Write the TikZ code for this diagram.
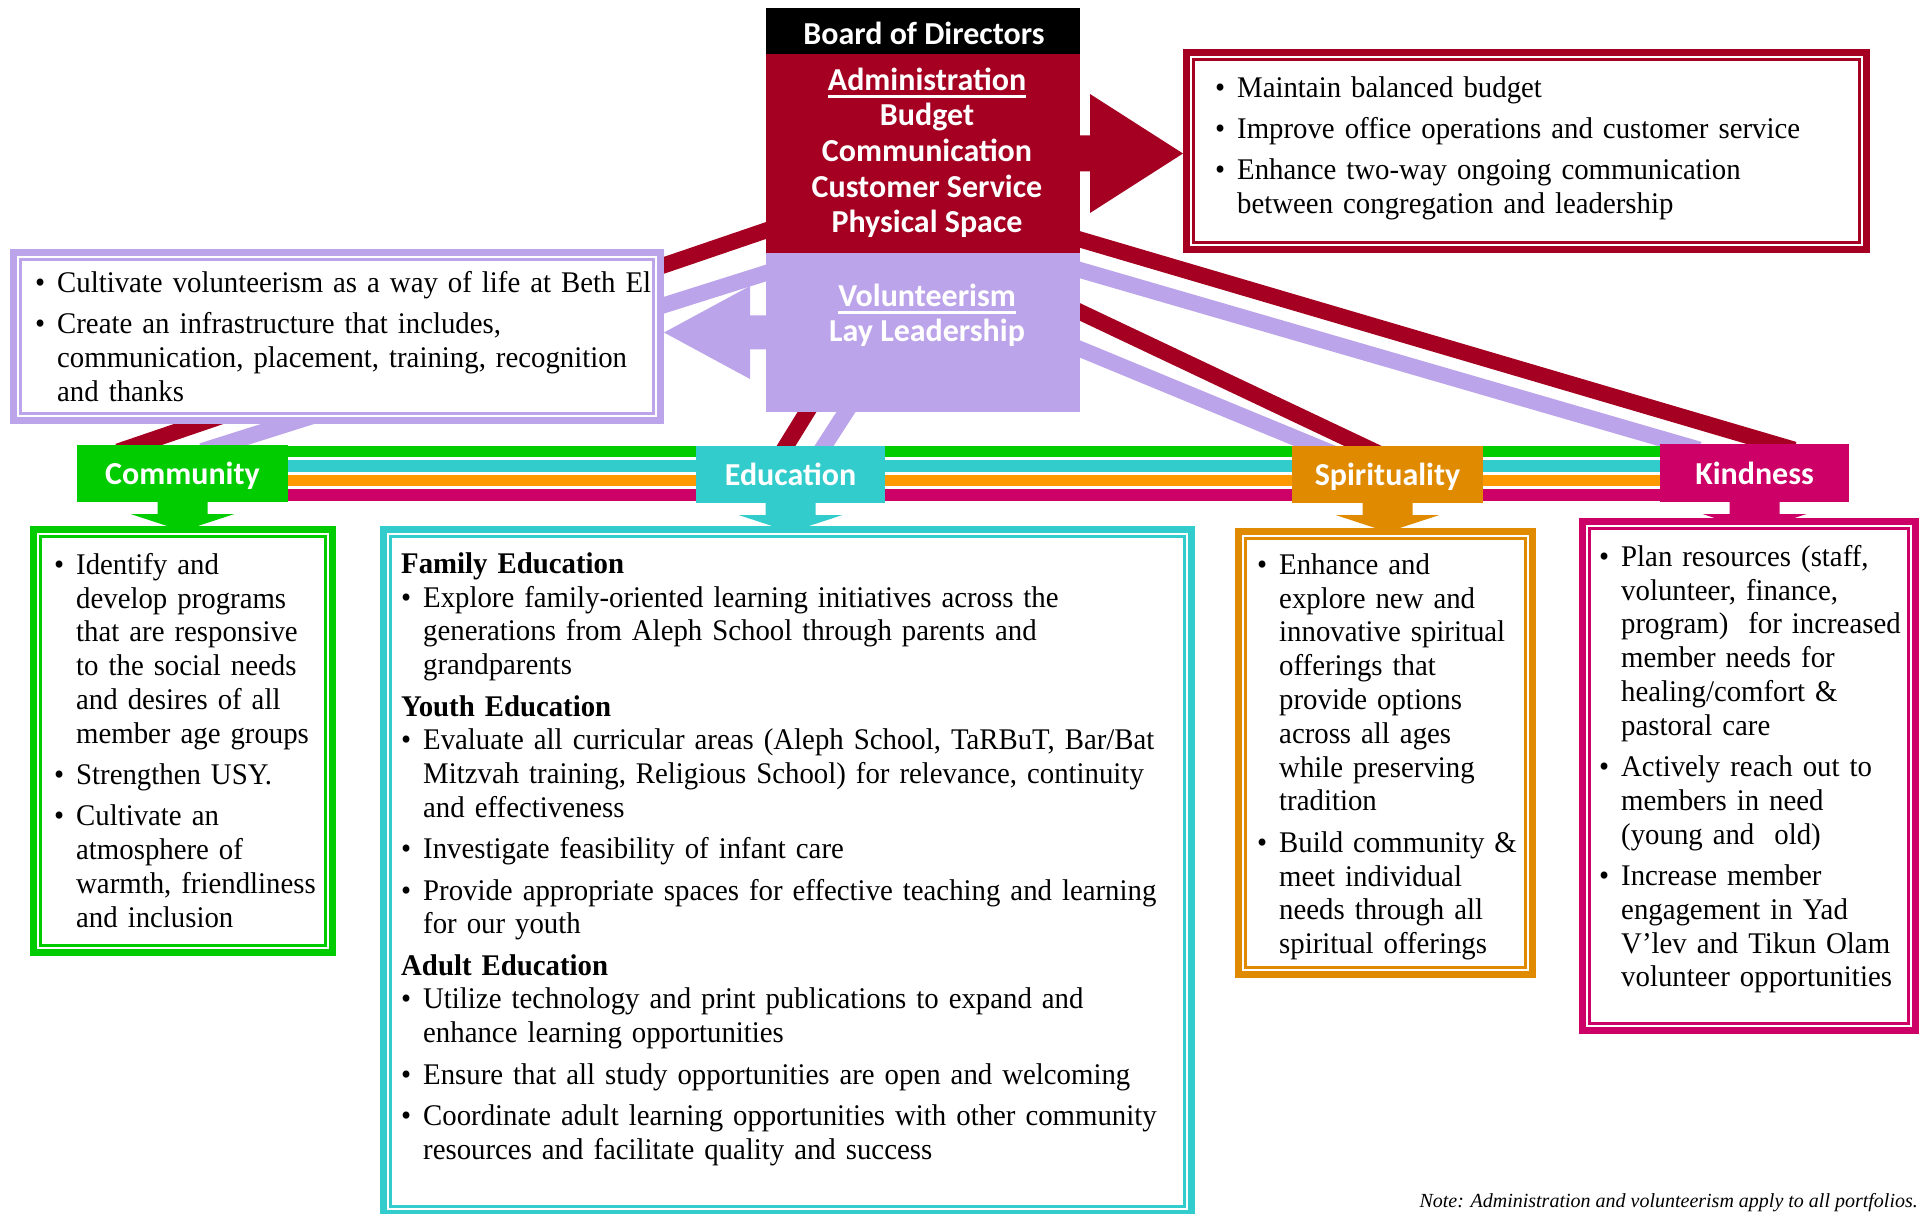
\documentclass[tikz,border=0pt]{standalone}
\usepackage{fontspec}
\setmainfont{Liberation Serif}[FakeStretch=0.96]
\newfontfamily\notefont{Liberation Serif}
\newfontfamily\catfont{Carlito}
\usetikzlibrary{calc}

\definecolor{brd}{HTML}{A50021}
\definecolor{lav}{HTML}{BCA4EA}
\definecolor{grn}{HTML}{00CC00}
\definecolor{cyn}{HTML}{33CCCC}
\definecolor{org}{HTML}{FF9900}
\definecolor{orgdk}{HTML}{E08A00}
\definecolor{mag}{HTML}{CC0066}

\pgfdeclarelayer{bg}
\pgfsetlayers{bg,main}

\newcommand{\bul}[1]{\par\hangindent=22pt\hangafter=1\noindent\hbox to 22pt{\strut\textbullet\hfil}#1\par}
\newcommand{\gap}{\vspace{7.5pt}}
\newcommand{\hd}[1]{\par\noindent\strut\textbf{#1}\par}
\newcommand{\undr}[1]{\setbox0=\hbox{#1}\rlap{\rule[-7pt]{\wd0}{2.5pt}}\box0}
\newcommand{\innerframe}[2]{\draw[#2, line width=2.3pt] ([shift={(7,7)}]#1.north west) rectangle ([shift={(-7,-7)}]#1.south east);}
\newcommand{\catarrow}[2]{\fill[#2] (#1.south) ++(-25,-3) -- ++(0,15) -- ++(-27,0) -- ++(52,17) -- ++(52,-17) -- ++(-27,0) -- ++(0,-15) -- cycle;}

\tikzset{
  board/.style={fill=#1, inner sep=0pt, outer sep=0pt, minimum width=314pt},
  boardtxt/.style={text=white, inner sep=0pt, anchor=base, font=\catfont\bfseries\fontsize{32}{32}\selectfont},
  catbox/.style={fill=#1, text=white, inner sep=0pt, outer sep=0pt, minimum height=57pt,
    text height=26pt, text depth=4pt, font=\catfont\bfseries\fontsize{32}{32}\selectfont},
  goalbox/.style={draw=#1, line width=7pt, fill=white, inner sep=0pt, outer sep=0pt},
  goaltxt/.style={anchor=north west, inner sep=0pt, text width=#1, font=\fontsize{30}{33.8}\selectfont},
  band/.style={draw=#1, line width=16pt, shorten <=-20pt, shorten >=-20pt},
  stripe/.style={draw=#1, line width=11.5pt},
}

\begin{document}
\begin{tikzpicture}[x=1pt,y=-1pt]
\useasboundingbox (0,0) rectangle (1927,1214);
\begin{pgfonlayer}{bg}
\fill[white] (0,0) rectangle (1927,1214);
\end{pgfonlayer}

% board of directors
\node[board=black, minimum height=46pt] (hdr) at (923,31) {};
\node[board=brd, minimum height=199pt] (adm) at (923,153.5) {};
\node[board=lav, minimum height=159pt] (vol) at (923,332.5) {};

\node[boardtxt] (thdr) at (924,45) {Board of Directors};
\node[boardtxt] (tadm) at (927,91) {\undr{Administration}};
\node[boardtxt] (tbud) at (927,126) {Budget};
\node[boardtxt] (tcom) at (927,162) {Communication};
\node[boardtxt] (tcus) at (927,198) {Customer Service};
\node[boardtxt] (tphy) at (927,233) {Physical Space};
\node[boardtxt] (tvol) at (927,307) {\undr{Volunteerism}};
\node[boardtxt] (tlay) at (927,342) {Lay Leadership};

% portfolios
\node[catbox=grn, minimum width=211pt] (comm) at (182.5,473.5) {Community};
\node[catbox=cyn, minimum width=189pt] (educ) at (790.5,474.5) {Education};
\node[catbox=orgdk, minimum width=191pt] (spir) at (1387.5,474.5) {Spirituality};
\node[catbox=mag, minimum width=189pt, minimum height=58pt] (kind) at (1754.5,473) {Kindness};

% goal boxes
\node[goalbox=brd, minimum width=680pt, minimum height=197pt] (admgoal) at (1526.5,151) {};
\innerframe{admgoal}{brd}
\node[goalbox=lav, minimum width=647pt, minimum height=168pt] (volgoal) at (337,336.5) {};
\innerframe{volgoal}{lav}
\node[goalbox=grn, minimum width=299pt, minimum height=423pt] (commgoal) at (183,741) {};
\innerframe{commgoal}{grn}
\node[goalbox=cyn, minimum width=808pt, minimum height=684pt] (educgoal) at (787.5,871.5) {};
\innerframe{educgoal}{cyn}
\node[goalbox=orgdk, minimum width=294pt, minimum height=443pt] (spirgoal) at (1385.5,753) {};
\innerframe{spirgoal}{orgdk}
\node[goalbox=mag, minimum width=333pt, minimum height=509pt] (kindgoal) at (1749,776) {};
\innerframe{kindgoal}{mag}

% goal texts
\node[goaltxt=640pt] (admtxt) at (1215,63.3) {\bul{Maintain balanced budget}\gap
  \bul{Improve office operations and customer service}\gap
  \bul{Enhance two-way ongoing communication\newline between congregation and leadership}};
\node[goaltxt=620pt] (voltxt) at (35,258.3) {\bul{Cultivate volunteerism as a way of life at Beth El}\gap
  \bul{Create an infrastructure that includes,\newline communication, placement, training, recognition\newline and thanks}};
\node[goaltxt=290pt] (commtxt) at (54,540.3) {\bul{Identify and\newline develop programs\newline that are responsive\newline to the social needs\newline and desires of all\newline member age groups}\gap
  \bul{Strengthen USY.}\gap
  \bul{Cultivate an\newline atmosphere of\newline warmth, friendliness\newline and inclusion}};
\node[goaltxt=790pt] (eductxt) at (401,539.3) {\hd{Family Education}
  \bul{Explore family-oriented learning initiatives across the\newline generations from Aleph School through parents and\newline grandparents}\gap
  \hd{Youth Education}
  \bul{Evaluate all curricular areas (Aleph School, TaRBuT, Bar/Bat\newline Mitzvah training, Religious School) for relevance, continuity\newline and effectiveness}\gap
  \bul{Investigate feasibility of infant care}\gap
  \bul{Provide appropriate spaces for effective teaching and learning\newline for our youth}\gap
  \hd{Adult Education}
  \bul{Utilize technology and print publications to expand and\newline enhance learning opportunities}\gap
  \bul{Ensure that all study opportunities are open and welcoming}\gap
  \bul{Coordinate adult learning opportunities with other community\newline resources and facilitate quality and success}};
\node[goaltxt=290pt] (spirtxt) at (1257,540.3) {\bul{Enhance and\newline explore new and\newline innovative spiritual\newline offerings that\newline provide options\newline across all ages\newline while preserving\newline tradition}\gap
  \bul{Build community \&\newline meet individual\newline needs through all\newline spiritual offerings}};
\node[goaltxt=320pt] (kindtxt) at (1599,532.3) {\bul{Plan resources (staff,\newline volunteer, finance,\newline program)~ for increased\newline member needs for\newline healing/comfort \&\newline pastoral care}\gap
  \bul{Actively reach out to\newline members in need\newline (young and~ old)}\gap
  \bul{Increase member\newline engagement in Yad\newline V’lev and Tikun Olam\newline volunteer opportunities}};

\node[anchor=base east, inner sep=0pt, font=\notefont\itshape\fontsize{20}{24}\selectfont] (note) at (1918,1207) {Note: Administration and volunteerism apply to all portfolios.};

\begin{pgfonlayer}{bg}
% bands from the board
\draw[band=brd] ([shift={(0,-22.5)}]adm.south west) -- ([shift={(60,0)}]comm.north west);
\draw[band=lav] ([shift={(0,20)}]vol.north west) -- ([shift={(144,0)}]comm.north west);
\draw[band=brd] ([shift={(41,0)}]vol.south west) -- ([shift={(90,0)}]educ.north west);
\draw[band=lav] ([shift={(80,0)}]vol.south west) -- ([shift={(128,0)}]educ.north west);
\draw[band=brd] ([shift={(0,-13.5)}]adm.south east) -- ([shift={(115,0)}]kind.north west);
\draw[band=lav] ([shift={(0,17)}]vol.north east) -- ([shift={(20,0)}]kind.north west);
\draw[band=brd] ([shift={(0,59)}]vol.north east) -- ([shift={(71,0)}]spir.north west);
\draw[band=lav] ([shift={(0,96)}]vol.north east) -- ([shift={(23,0)}]spir.north west);

% stripes
\coordinate (sL) at (comm.north east);
\coordinate (sR) at (comm.north east -| kind.west);
\foreach \c/\dy in {grn/6.5, cyn/21, org/35.5, mag/50}
  \draw[stripe=\c] ([shift={(-3,\dy)}]sL) -- ([shift={(3,\dy)}]sR);

% arrows
\fill[brd] (adm.east) ++(-5,-18) -- ++(15,0) -- ++(0,-41.5) -- ++(93,59.5) -- ++(-93,59.5) -- ++(0,-41.5) -- ++(-15,0) -- cycle;
\fill[lav] (vol.west) ++(5,-17) -- ++(-21,0) -- ++(0,-29.5) -- ++(-86,46.5) -- ++(86,46.5) -- ++(0,-29.5) -- ++(21,0) -- cycle;
\catarrow{comm}{grn}
\catarrow{educ}{cyn}
\catarrow{spir}{orgdk}
\catarrow{kind}{mag}
\end{pgfonlayer}
\end{tikzpicture}
\end{document}
